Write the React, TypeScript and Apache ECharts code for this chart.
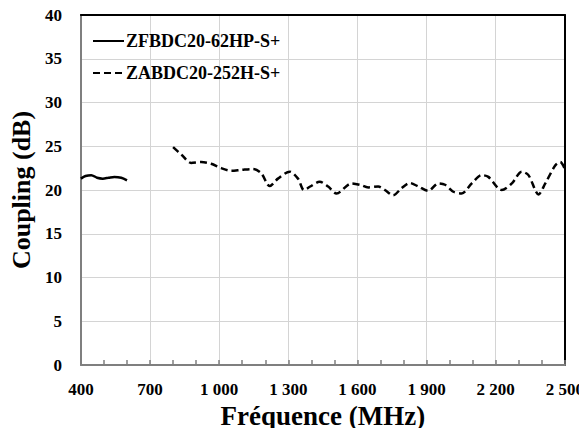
import React, { useEffect, useRef } from "react";
import * as echarts from "echarts";

const X_MIN = 400;
const X_MAX = 2500;
const X_STEP = 300;
const Y_MIN = 0;
const Y_MAX = 40;
const Y_STEP = 5;

const solidName = "ZFBDC20-62HP-S+";
const solidFreq = [400, 420, 445, 470, 495, 520, 545, 575, 600];
const solidCoupling = [21.3, 21.6, 21.7, 21.4, 21.3, 21.4, 21.5, 21.4, 21.1];

const dashedName = "ZABDC20-252H-S+";
const dashedFreq = [
  800, 838, 878, 922, 965, 1009, 1052, 1096, 1147, 1183, 1219, 1255, 1306, 1342,
  1368, 1395, 1436, 1473, 1509, 1574, 1610, 1647, 1690, 1719, 1755, 1791, 1827,
  1864, 1907, 1951, 1980, 2016, 2052, 2096, 2139, 2168, 2226, 2270, 2313, 2342,
  2386, 2415, 2458, 2480, 2500,
];
const dashedCoupling = [
  24.9, 24.0, 23.1, 23.2, 23.0, 22.5, 22.2, 22.3, 22.4, 21.9, 20.45, 21.3, 22.1, 21.3,
  20.0, 20.4, 20.95, 20.4, 19.6, 20.75, 20.6, 20.3, 20.4, 20.0, 19.4, 20.2, 20.8,
  20.4, 19.9, 20.75, 20.6, 19.8, 19.6, 20.75, 21.7, 21.5, 20.0, 20.75, 22.1, 21.7,
  19.5, 20.75, 22.8, 23.2, 22.4,
];

const FONT = "Liberation Serif, Times New Roman, serif";

function fmtFreq(v: number): string {
  const n = Math.round(v + X_MIN);
  const s = String(n);
  return s.length > 3 ? s.slice(0, s.length - 3) + " " + s.slice(-3) : s;
}

const borderAxis = {
  axisLine: { show: true, onZero: false, lineStyle: { color: "#000000", width: 2 } },
  axisTick: { show: false },
  axisLabel: { show: false },
  splitLine: { show: false },
};

export default function App() {
  const ref = useRef<HTMLDivElement>(null);
  useEffect(() => {
    if (!ref.current) return;
    const chart = echarts.init(ref.current, undefined, { renderer: "svg" });
    const solidData = solidFreq.map((f, i) => [f - X_MIN, solidCoupling[i]]);
    const dashedData = dashedFreq.map((f, i) => [f - X_MIN, dashedCoupling[i]]);
    chart.setOption({
      animation: false,
      backgroundColor: "#ffffff",
      grid: {
        left: 80,
        right: 22,
        top: 15,
        bottom: 71,
        containLabel: false,
      },
      legend: {
        orient: "vertical",
        left: 87,
        top: 27,
        itemWidth: 31,
        itemHeight: 14,
        itemGap: 14,
        data: [solidName, dashedName],
        itemStyle: { opacity: 0 },
        textStyle: {
          fontFamily: FONT,
          fontWeight: "bold",
          fontSize: 18,
          color: "#000000",
          padding: [0, 0, 0, -3],
        },
      },
      xAxis: [
        {
          type: "value",
          min: 0,
          max: X_MAX - X_MIN,
          interval: X_STEP,
          name: "Fréquence (MHz)",
          nameLocation: "middle",
          nameGap: 37,
          nameTextStyle: {
            fontFamily: FONT,
            fontWeight: "bold",
            fontSize: 27,
            color: "#000000",
          },
          axisLine: { show: true, onZero: false, lineStyle: { color: "#7f7f7f", width: 2 } },
          axisTick: { show: true, inside: true, length: 5, lineStyle: { color: "#7f7f7f", width: 1.5 } },
          minorTick: { show: true, splitNumber: 3, length: 5, lineStyle: { color: "#7f7f7f", width: 1.5 } },
          splitLine: {
            show: true,
            lineStyle: { color: "#d4d4d4", width: 1 },
          },
          axisLabel: {
            margin: 16,
            fontFamily: FONT,
            fontWeight: "bold",
            fontSize: 17,
            color: "#000000",
            formatter: (v: number) => fmtFreq(v),
          },
        },
        {
          type: "value",
          position: "top",
          min: 0,
          max: X_MAX - X_MIN,
          interval: X_STEP,
          ...borderAxis,
        },
      ],
      yAxis: [
        {
          type: "value",
          min: Y_MIN,
          max: Y_MAX,
          interval: Y_STEP,
          name: "Coupling (dB)",
          nameLocation: "middle",
          nameGap: 42,
          nameTextStyle: {
            fontFamily: FONT,
            fontWeight: "bold",
            fontSize: 26,
            color: "#000000",
          },
          axisLine: { show: true, onZero: false, lineStyle: { color: "#7f7f7f", width: 2 } },
          axisTick: { show: false },
          splitLine: {
            show: true,
            lineStyle: { color: "#d4d4d4", width: 1 },
          },
          axisLabel: {
            margin: 19,
            fontFamily: FONT,
            fontWeight: "bold",
            fontSize: 17,
            color: "#000000",
          },
        },
        {
          type: "value",
          position: "right",
          min: Y_MIN,
          max: Y_MAX,
          interval: Y_STEP,
          ...borderAxis,
        },
      ],
      series: [
        {
          name: solidName,
          type: "line",
          data: solidData,
          symbol: "none",
          smooth: 0.3,
          lineStyle: { color: "#000000", width: 2.5, type: "solid" },
          itemStyle: { color: "#000000" },
        },
        {
          name: dashedName,
          type: "line",
          data: dashedData,
          symbol: "none",
          smooth: 0.3,
          lineStyle: { color: "#000000", width: 2.5, type: [7, 4] },
          itemStyle: { color: "#000000" },
        },
      ],
    });
    return () => chart.dispose();
  }, []);
  return <div ref={ref} style={{ width: 587, height: 436, margin: -8 }} />;
}
